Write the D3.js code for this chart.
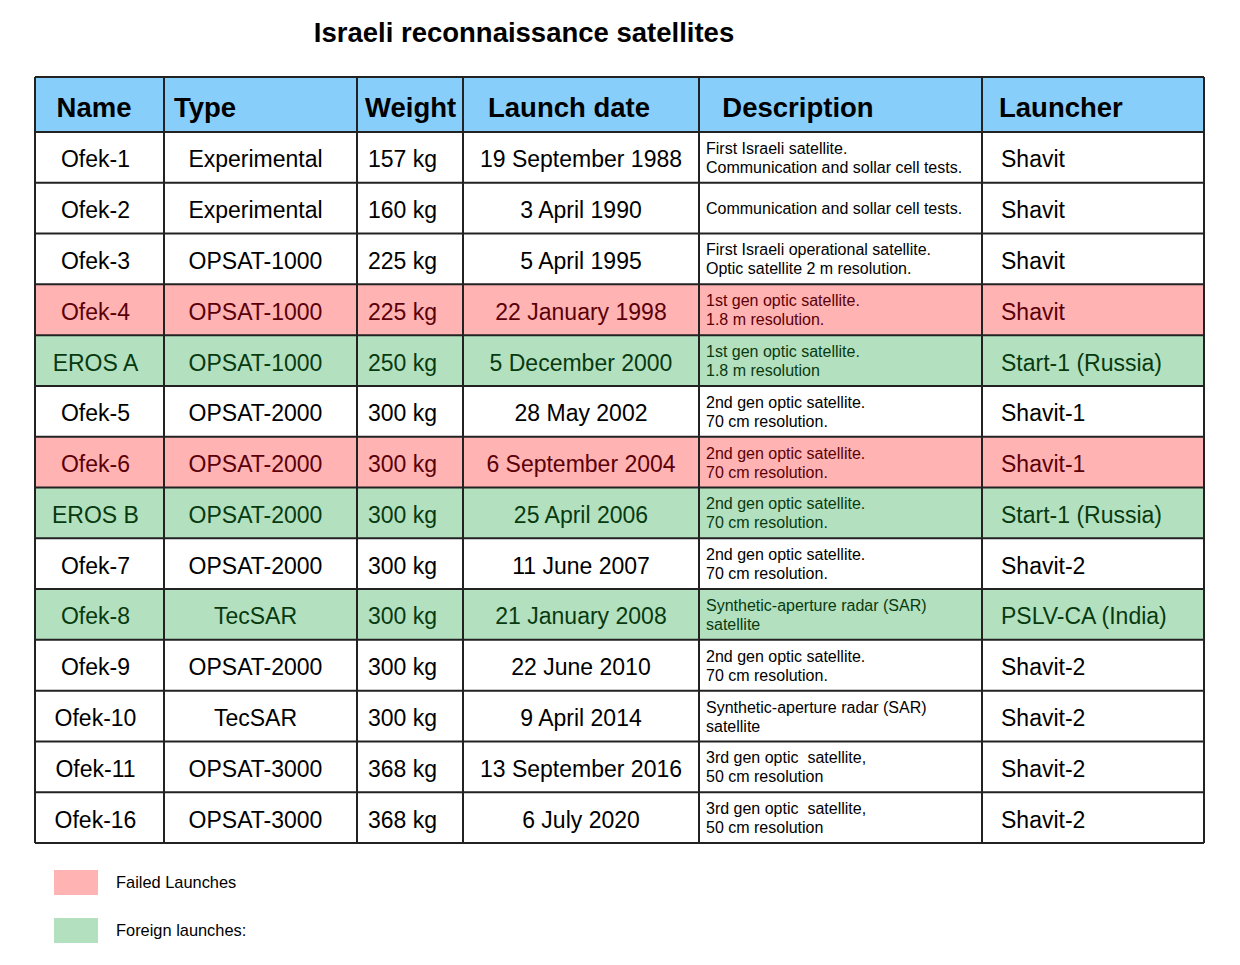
<!DOCTYPE html>
<html><head><meta charset="utf-8">
<script src="https://cdn.jsdelivr.net/npm/d3@7"></script>
<style>body{margin:0;background:#fff;} svg{display:block;font-family:"Liberation Sans",Arial,sans-serif;}</style>
</head><body><svg id="c" width="1240" height="965"></svg>
<script>
const columns = ["Name","Type","Weight","Launch date","Description","Launcher"];
const names = ["Ofek-1","Ofek-2","Ofek-3","Ofek-4","EROS A","Ofek-5","Ofek-6","EROS B","Ofek-7","Ofek-8","Ofek-9","Ofek-10","Ofek-11","Ofek-16"];
const types = ["Experimental","Experimental","OPSAT-1000","OPSAT-1000","OPSAT-1000","OPSAT-2000","OPSAT-2000","OPSAT-2000","OPSAT-2000","TecSAR","OPSAT-2000","TecSAR","OPSAT-3000","OPSAT-3000"];
const weights = ["157 kg","160 kg","225 kg","225 kg","250 kg","300 kg","300 kg","300 kg","300 kg","300 kg","300 kg","300 kg","368 kg","368 kg"];
const launchDates = ["19 September 1988","3 April 1990","5 April 1995","22 January 1998","5 December 2000","28 May 2002","6 September 2004","25 April 2006","11 June 2007","21 January 2008","22 June 2010","9 April 2014","13 September 2016","6 July 2020"];
const descriptions = [
 ["First Israeli satellite.","Communication and sollar cell tests."],
 ["Communication and sollar cell tests."],
 ["First Israeli operational satellite.","Optic satellite 2 m resolution."],
 ["1st gen optic satellite.","1.8 m resolution."],
 ["1st gen optic satellite.","1.8 m resolution"],
 ["2nd gen optic satellite.","70 cm resolution."],
 ["2nd gen optic satellite.","70 cm resolution."],
 ["2nd gen optic satellite.","70 cm resolution."],
 ["2nd gen optic satellite.","70 cm resolution."],
 ["Synthetic-aperture radar (SAR)","satellite"],
 ["2nd gen optic satellite.","70 cm resolution."],
 ["Synthetic-aperture radar (SAR)","satellite"],
 ["3rd gen optic  satellite,","50 cm resolution"],
 ["3rd gen optic  satellite,","50 cm resolution"]];
const launchers = ["Shavit","Shavit","Shavit","Shavit","Start-1 (Russia)","Shavit-1","Shavit-1","Start-1 (Russia)","Shavit-2","PSLV-CA (India)","Shavit-2","Shavit-2","Shavit-2","Shavit-2"];
const status = ["ok","ok","ok","failed","foreign","ok","failed","foreign","ok","foreign","ok","ok","ok","ok"];
const legendLabels = ["Failed Launches","Foreign launches:"];
const legendKeys = ["failed","foreign"];

const svg = d3.select("#c");
const fill = d3.scaleOrdinal().domain(["ok","failed","foreign"]).range(["#ffffff","#ffb3b3","#b3e0bf"]);
const ink = d3.scaleOrdinal().domain(["ok","failed","foreign"]).range(["#000000","#5a0008","#083a10"]);

const colLeft = d3.scaleOrdinal().domain(columns).range([35,164,357,463,699,982]);
const colRight = d3.scaleOrdinal().domain(columns).range([164,357,463,699,982,1204]);
const y = d3.scaleBand().domain(names).range([132,843]);
const headerTop = 77, headerBottom = 132;

svg.append("text").attr("x",524).attr("y",42).attr("text-anchor","middle")
  .attr("font-size",27.5).attr("font-weight","bold").text("Israeli reconnaissance satellites");

svg.append("rect").attr("x",35).attr("y",headerTop).attr("width",1204-35).attr("height",headerBottom-headerTop).attr("fill","#87cefa");
const headerX = {"Name":94,"Type":174,"Weight":365,"Launch date":569,"Description":798,"Launcher":999};
const headerAnchor = {"Name":"middle","Type":"start","Weight":"start","Launch date":"middle","Description":"middle","Launcher":"start"};
svg.selectAll("text.h").data(columns).join("text").attr("class","h")
  .attr("x",d=>headerX[d]).attr("y",(headerTop+headerBottom)/2+12).attr("text-anchor",d=>headerAnchor[d])
  .attr("font-size",27.5).attr("font-weight","bold").text(d=>d);

const rows = names.map((n,i)=>({name:n,type:types[i],weight:weights[i],date:launchDates[i],desc:descriptions[i],launcher:launchers[i],status:status[i]}));

const g = svg.selectAll("g.row").data(rows).join("g").attr("class","row")
  .attr("transform",d=>`translate(0,${y(d.name)})`);
const bh = y.bandwidth();
g.append("rect").attr("x",35).attr("width",1204-35).attr("height",bh).attr("fill",d=>fill(d.status));
const cy = bh/2+10;
const fs = 23;
g.append("text").attr("x",(colLeft("Name")+colRight("Name"))/2-4).attr("y",cy).attr("text-anchor","middle")
  .attr("font-size",fs).attr("fill",d=>ink(d.status)).text(d=>d.name);
g.append("text").attr("x",(colLeft("Type")+colRight("Type"))/2-5).attr("y",cy).attr("text-anchor","middle")
  .attr("font-size",fs).attr("fill",d=>ink(d.status)).text(d=>d.type);
g.append("text").attr("x",colLeft("Weight")+11).attr("y",cy).attr("text-anchor","start")
  .attr("font-size",fs).attr("fill",d=>ink(d.status)).text(d=>d.weight);
g.append("text").attr("x",(colLeft("Launch date")+colRight("Launch date"))/2).attr("y",cy).attr("text-anchor","middle")
  .attr("font-size",fs).attr("fill",d=>ink(d.status)).text(d=>d.date);
g.append("text").attr("x",colLeft("Launcher")+19).attr("y",cy).attr("text-anchor","start")
  .attr("font-size",fs).attr("fill",d=>ink(d.status)).text(d=>d.launcher);
g.each(function(d){
  const t = d3.select(this).append("text").attr("font-size",16).attr("fill",ink(d.status));
  const n = d.desc.length;
  d.desc.forEach((line,j)=>{
    t.append("tspan").attr("x",colLeft("Description")+7)
     .attr("y", bh/2 + 6 + (j-(n-1)/2)*19).attr("xml:space","preserve").text(line);
  });
});

const lineColor = "#222";
const hy = [headerTop, headerBottom].concat(names.map(n=>y(n)+bh));
svg.selectAll("line.hz").data(hy).join("line").attr("class","hz")
  .attr("x1",35).attr("x2",1204).attr("y1",d=>d).attr("y2",d=>d).attr("stroke",lineColor).attr("stroke-width",2);
const vx = [35].concat(columns.map(c=>colRight(c)));
svg.selectAll("line.vt").data(vx).join("line").attr("class","vt")
  .attr("x1",d=>d).attr("x2",d=>d).attr("y1",headerTop).attr("y2",843).attr("stroke",lineColor).attr("stroke-width",2);

const ly = d3.scaleOrdinal().domain(legendKeys).range([870,918]);
const lg = svg.selectAll("g.leg").data(legendKeys).join("g").attr("class","leg")
  .attr("transform",d=>`translate(54,${ly(d)})`);
lg.append("rect").attr("width",44).attr("height",25).attr("fill",d=>fill(d));
lg.append("text").attr("x",62).attr("y",18).attr("font-size",16.4).attr("fill","#000")
  .text((d,i)=>legendLabels[i]);
</script></body></html>
